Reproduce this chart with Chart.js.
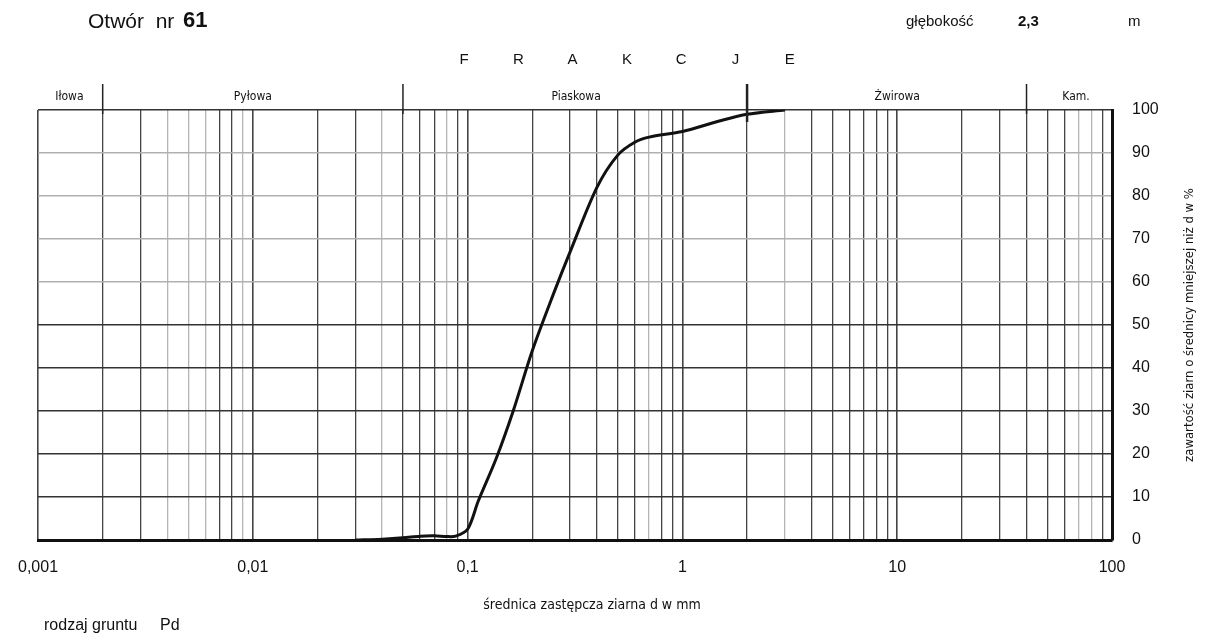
<!DOCTYPE html>
<html>
<head>
<meta charset="utf-8">
<script src="https://cdn.jsdelivr.net/npm/chart.js@4.4.0/dist/chart.umd.min.js"></script>
<style>
  html, body { margin: 0; padding: 0; background: #fff; }
</style>
</head>
<body>
<canvas id="chart" width="1208" height="640"></canvas>
<script>
// grain size curve (diameter in mm, % passing)
const diameters = [0.03, 0.04, 0.05, 0.06, 0.07, 0.08, 0.088, 0.1, 0.112, 0.136, 0.163, 0.2, 0.25, 0.3, 0.4, 0.5, 0.6, 0.7, 1, 1.5, 2, 3];
const passing   = [0,    0.2,  0.5,  0.9,  1,    0.8,  0.9,   2.5, 9,     19,    30,    44,  57,   67,  82,  89.5, 92.5, 93.7, 95, 97.5, 99, 100];

// axis ticks
const decades = [0.001, 0.01, 0.1, 1, 10, 100];
const decadeLabels = ["0,001", "0,01", "0,1", "1", "10", "100"];
const lightX = [0.004, 0.005, 0.006, 0.009, 0.04, 0.08, 0.7, 3, 70, 80];
const lightY = [60, 70, 80, 90];

// fractions
const fractionBounds = [0.002, 0.05, 2, 40];
const fractionNames = ["Iłowa", "Pyłowa", "Piaskowa", "Żwirowa", "Kam."];
const fractionCenters = [0.0014, 0.01, 0.32, 10, 68];

const gridValues = [];
for (let e = -3; e <= 1; e++) {
  for (let s = 1; s <= 9; s++) gridValues.push(+(s * Math.pow(10, e)).toPrecision(3));
}
gridValues.push(100);

const near = (a, b) => Math.abs(Math.log10(a) - Math.log10(b)) < 1e-6;
const narrow = "'DejaVu Sans Condensed', 'Liberation Sans', sans-serif";

const extras = {
  id: "extras",
  afterDraw(chart) {
    const c = chart.ctx;
    const xs = chart.scales.x;
    const top = chart.chartArea.top;
    c.save();
    c.fillStyle = "#111";
    c.textBaseline = "middle";

    // header
    c.textAlign = "left";
    c.font = "21px 'Liberation Sans'";
    c.fillText("Otwór  nr", 88, 22);
    c.font = "bold 22px 'Liberation Sans'";
    c.fillText("61", 183, 21);
    c.font = "15px 'Liberation Sans'";
    c.fillText("głębokość", 906, 22);
    c.font = "bold 15px 'Liberation Sans'";
    c.fillText("2,3", 1018, 22);
    c.font = "15px 'Liberation Sans'";
    c.fillText("m", 1128, 22);

    // FRAKCJE
    c.textAlign = "center";
    c.font = "15px 'Liberation Sans'";
    "FRAKCJE".split("").forEach((ch, i) => c.fillText(ch, 464 + i * 54.3, 60));

    // fraction separators
    c.strokeStyle = "#222";
    fractionBounds.forEach((b, i) => {
      const px = xs.getPixelForValue(b);
      c.lineWidth = i === 2 ? 2.5 : 1.5;
      c.beginPath();
      c.moveTo(px, 84);
      c.lineTo(px, i === 2 ? top + 12 : top + 4);
      c.stroke();
    });
    c.font = "12px " + narrow;
    fractionNames.forEach((n, i) => c.fillText(n, xs.getPixelForValue(fractionCenters[i]), 97));

    // x axis title
    c.font = "14px " + narrow;
    c.fillText("średnica zastępcza ziarna d w mm", 592, 605);

    // soil type
    c.textAlign = "left";
    c.font = "16px 'Liberation Sans'";
    c.fillText("rodzaj gruntu", 44, 626);
    c.fillText("Pd", 160, 626);

    // y axis title
    c.translate(1190, 325);
    c.rotate(-Math.PI / 2);
    c.textAlign = "center";
    c.font = "13px " + narrow;
    c.fillText("zawartość ziarn o średnicy mniejszej niż d w %", 0, 0);
    c.restore();
  }
};

new Chart(document.getElementById("chart"), {
  type: "line",
  data: {
    datasets: [
      {
        data: diameters.map((d, i) => ({ x: d, y: passing[i] })),
        borderColor: "#111",
        borderWidth: 3,
        pointRadius: 0,
        tension: 0.3,
        fill: false,
      },
    ],
  },
  options: {
    responsive: false,
    animation: false,
    layout: { padding: { top: 110, left: 36, right: 0, bottom: 0 } },
    plugins: { legend: { display: false }, tooltip: { enabled: false } },
    scales: {
      x: {
        type: "logarithmic",
        min: 0.001,
        max: 100,
        afterBuildTicks: (scale) => {
          scale.ticks = gridValues.map((v) => ({ value: v }));
        },
        afterFit: (scale) => {
          scale.height = 100;
        },
        grid: {
          drawTicks: false,
          lineWidth: (ctx) => (decades.some((d) => near(d, ctx.tick.value)) ? 1.6 : 1.3),
          color: (ctx) => (lightX.some((d) => near(d, ctx.tick.value)) ? "#b5b5b5" : "#444"),
        },
        border: { color: "#111", width: 3 },
        ticks: {
          autoSkip: false,
          maxRotation: 0,
          padding: 18,
          color: "#111",
          font: { family: "'Liberation Sans'", size: 16 },
          callback: (v) => {
            const i = decades.findIndex((d) => near(d, v));
            return i >= 0 ? decadeLabels[i] : "";
          },
        },
      },
      y: {
        position: "right",
        min: 0,
        max: 100,
        afterFit: (scale) => {
          scale.width = 96;
        },
        grid: {
          drawTicks: false,
          lineWidth: 1.5,
          color: (ctx) => (lightY.includes(ctx.tick.value) ? "#b0b0b0" : "#333"),
        },
        border: { color: "#111", width: 3 },
        ticks: {
          stepSize: 10,
          padding: 20,
          color: "#111",
          font: { family: "'Liberation Sans'", size: 16 },
        },
      },
    },
  },
  plugins: [extras],
});
</script>
</body>
</html>
